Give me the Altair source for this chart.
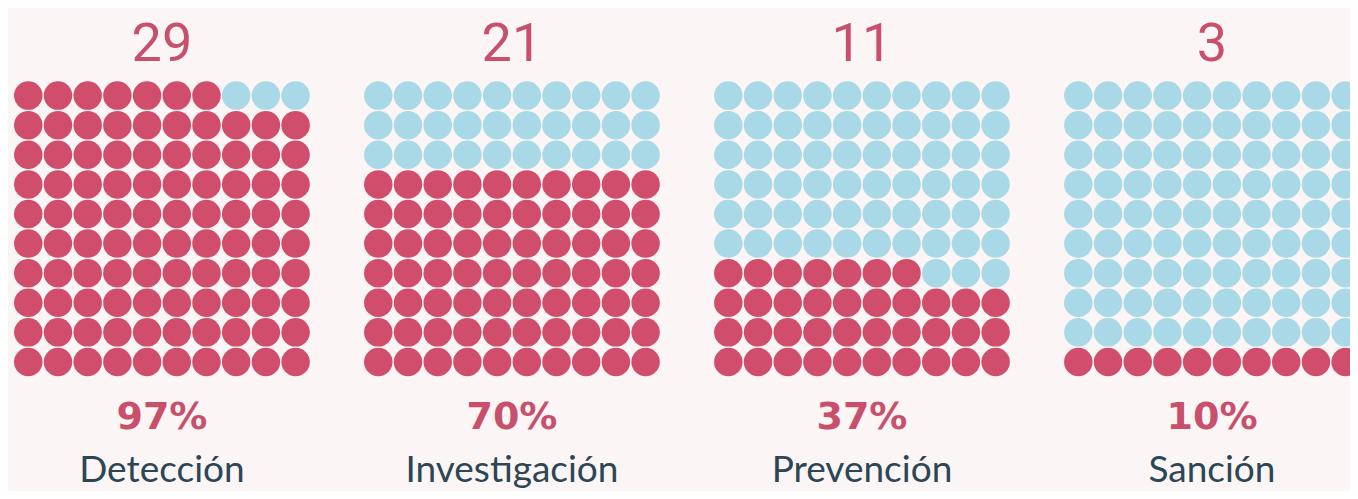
import altair as alt
import pandas as pd

categories = ["Detección", "Investigación", "Prevención", "Sanción"]
counts = [29, 21, 11, 3]
percents = [97, 70, 37, 10]

GRID = 10
PANEL_GAP = 11.785  # panel spacing in grid units

cells = []
for p, (cat, pct) in enumerate(zip(categories, percents)):
    for row in range(GRID):
        for col in range(GRID):
            idx = row * GRID + col
            cells.append({
                "cat": cat,
                "x": p * PANEL_GAP + col,
                "row": row,
                "state": "on" if idx < pct else "off",
            })
df = pd.DataFrame(cells)

labels = pd.DataFrame({
    "cat": categories,
    "x": [p * PANEL_GAP + (GRID - 1) / 2 for p in range(len(categories))],
    "count": [str(c) for c in counts],
    "pct": [f"{v}%" for v in percents],
})

RED = "#d04e6b"
BLUE = "#a9d9e6"
W, H = 1342, 483

xscale = alt.Scale(domain=[-0.683, 44.502], nice=False, zero=False)
yscale = alt.Scale(domain=[-4.36, 11.96], nice=False, zero=False)

dots = alt.Chart(df).mark_circle(size=812, opacity=1).encode(
    x=alt.X("x:Q", scale=xscale, axis=None),
    y=alt.Y("row:Q", scale=yscale, axis=None),
    color=alt.Color("state:N", scale=alt.Scale(domain=["on", "off"], range=[RED, BLUE]), legend=None),
)

num = alt.Chart(labels).mark_text(
    font="Roboto", fontSize=54, fontWeight="normal", color="#c9506c", baseline="alphabetic", align="center"
).encode(x=alt.X("x:Q", scale=xscale, axis=None), y=alt.value(53), text="count:N")

pct = alt.Chart(labels).mark_text(
    font="DejaVu Sans", fontSize=38, fontWeight="bold", color="#c9506c", baseline="middle", align="center"
).encode(x=alt.X("x:Q", scale=xscale, axis=None), y=alt.value(410), text="pct:N")

lab = alt.Chart(labels).mark_text(
    font="Lato", fontSize=37, color="#2c4656", baseline="alphabetic", align="center"
).encode(x=alt.X("x:Q", scale=xscale, axis=None), y=alt.value(474), text="cat:N")

chart = alt.layer(dots, num, pct, lab).properties(
    width=W, height=H, autosize=alt.AutoSizeParams(type="none"), padding=0
).configure(background="#fcf5f5").configure_view(stroke=None)

chart.save("out.html", embed_options={"renderer": "svg", "actions": False})
